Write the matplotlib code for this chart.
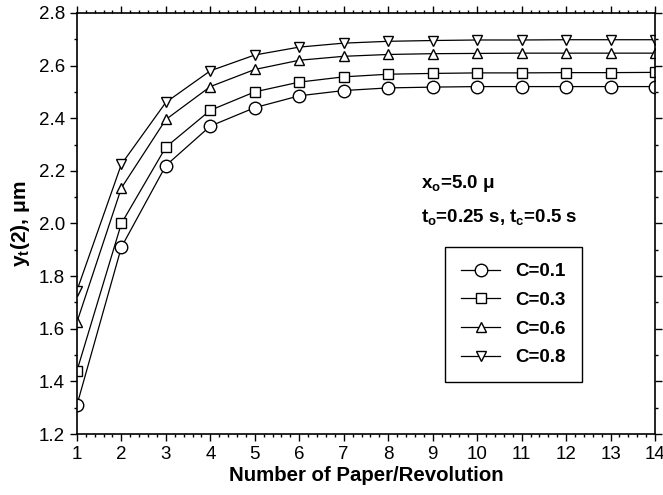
import matplotlib
matplotlib.use("Agg")
import matplotlib.pyplot as plt
from matplotlib.ticker import MultipleLocator
import numpy as np

plt.rcParams['font.family'] = ['Liberation Sans', 'DejaVu Sans']
plt.rcParams['mathtext.fontset'] = 'custom'
plt.rcParams['mathtext.rm'] = 'Liberation Sans:bold'
plt.rcParams['mathtext.it'] = 'Liberation Sans:bold'
plt.rcParams['mathtext.bf'] = 'Liberation Sans:bold'

n_paper = list(range(1, 15))
c01 = [1.31, 1.91, 2.22, 2.37, 2.44, 2.485, 2.505, 2.515, 2.518, 2.52, 2.52, 2.52, 2.52, 2.52]
c03 = [1.44, 2.00, 2.29, 2.43, 2.50, 2.537, 2.557, 2.567, 2.57, 2.572, 2.572, 2.573, 2.573, 2.574]
c06 = [1.625, 2.135, 2.395, 2.52, 2.585, 2.62, 2.635, 2.642, 2.645, 2.646, 2.647, 2.647, 2.647, 2.647]
c08 = [1.745, 2.225, 2.46, 2.58, 2.64, 2.67, 2.685, 2.692, 2.695, 2.697, 2.697, 2.698, 2.698, 2.698]
labels = ['C=0.1', 'C=0.3', 'C=0.6', 'C=0.8']

fig = plt.figure(figsize=(6.63, 4.95), dpi=100)
ax = fig.add_axes([0.116, 0.123, 0.872, 0.851])

styles = [('o', 9), ('s', 6.5), ('^', 7), ('v', 7)]
for ys, lab, (m, ms) in zip([c01, c03, c06, c08], labels, styles):
    ax.plot(n_paper, ys, color='black', lw=0.9, marker=m, ms=ms,
            mfc='white', mec='black', mew=1.0, label=lab)

ax.set_xlim(1, 14)
ax.set_ylim(1.2, 2.8)
ax.xaxis.set_major_locator(MultipleLocator(1))
ax.xaxis.set_minor_locator(MultipleLocator(0.2))
ax.yaxis.set_major_locator(MultipleLocator(0.2))
ax.yaxis.set_minor_locator(MultipleLocator(0.1))
ax.yaxis.set_major_formatter(matplotlib.ticker.FormatStrFormatter('%.1f'))
ax.tick_params(which='both', direction='out', top=True, right=True, width=1.0)
ax.tick_params(which='major', length=5, labelsize=13.5)
ax.tick_params(which='minor', length=2.5)
ax.tick_params(axis='x', which='both', top=True, labeltop=False)
for s in ax.spines.values():
    s.set_linewidth(1.2)

ax.set_xlabel('Number of Paper/Revolution', fontsize=14.7, fontweight='bold', labelpad=2)
ax.set_ylabel(r'$\mathbf{y_t}$(2), μm', fontsize=15, fontweight='bold', labelpad=5)

ax.text(0.595, 0.596, r'$\mathbf{x_o}$=5.0 μ', transform=ax.transAxes,
        fontsize=13.5, fontweight='bold', va='center')
ax.text(0.595, 0.515, r'$\mathbf{t_o}$=0.25 s, $\mathbf{t_c}$=0.5 s', transform=ax.transAxes,
        fontsize=13.5, fontweight='bold', va='center')

leg = ax.legend(loc='upper left', bbox_to_anchor=(0.637, 0.444), frameon=True,
                fancybox=False, edgecolor='black', framealpha=1,
                prop={'weight': 'bold', 'size': 13.5}, handlelength=2.1,
                labelspacing=0.62, borderpad=0.85, handletextpad=0.8,
                borderaxespad=0)
leg.get_frame().set_linewidth(1.0)

fig.savefig('out.png', dpi=100)
